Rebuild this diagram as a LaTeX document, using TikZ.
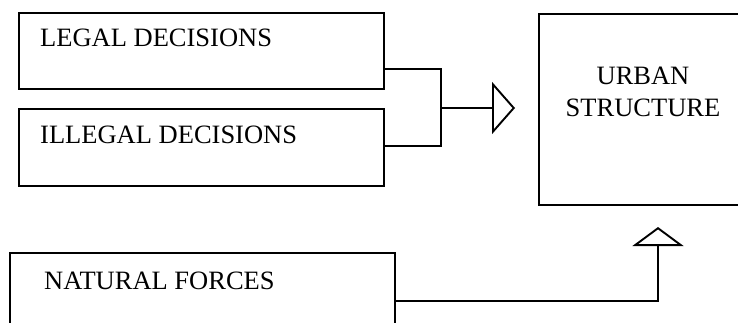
\documentclass[tikz,border=0pt]{standalone}
\usepackage{fontspec}
\setmainfont{Liberation Serif}
\usetikzlibrary{arrows.meta,calc}
\begin{document}
\begin{tikzpicture}[x=1pt,y=-1pt,
  box/.style={draw,line width=1.9pt,rectangle,inner sep=0pt},
  lbl/.style={font=\fontsize{26.5}{31.5}\selectfont,inner sep=0pt},
  link/.style={line width=1.9pt},
]
\useasboundingbox (0,0) rectangle (738,322);
\clip (0,0) rectangle (738,322);

% decision boxes
\node[box,minimum width=365pt,minimum height=76pt,anchor=north west] (legal) at (18,12) {};
\node[lbl,anchor=base west] (legalt) at (40,46) {LEGAL DECISIONS};
\node[box,minimum width=365pt,minimum height=77pt,anchor=north west] (illegal) at (18,108) {};
\node[lbl,anchor=base west] (illegalt) at (40,143) {ILLEGAL DECISIONS};

% natural forces box, running off the bottom edge
\node[box,minimum width=385pt,minimum height=100pt,anchor=north west] (natural) at (9,252) {};
\node[lbl,anchor=base west] (naturalt) at (44,289) {NATURAL FORCES};

% urban structure box, running off the right edge
\node[box,minimum width=210pt,minimum height=191pt,anchor=north west] (urban) at (538,13) {};
\node[lbl,align=center,anchor=base] (urbant) at (643,116) {URBAN\\STRUCTURE};

% joining points
\coordinate (legalout) at (383,69);
\coordinate (illegalout) at (383,146);
\coordinate (joinA) at (441,69);
\coordinate (joinB) at (441,146);
\coordinate (joinM) at (441,108);
\coordinate (tipA) at (515,108);
\coordinate (natout) at (394,301);
\coordinate (bend) at (658,301);
\coordinate (tipB) at (658,227);

\draw[link] (legalout) -- (joinA) -- (joinB) -- (illegalout);
\draw[link,-{Triangle[open,length=23pt,width=52pt,line width=1.9pt]}] (joinM) -- (tipA);
\draw[link,-{Triangle[open,length=19pt,width=51pt,line width=1.9pt]}] (natout) -- (bend) -- (tipB);
\end{tikzpicture}
\end{document}
